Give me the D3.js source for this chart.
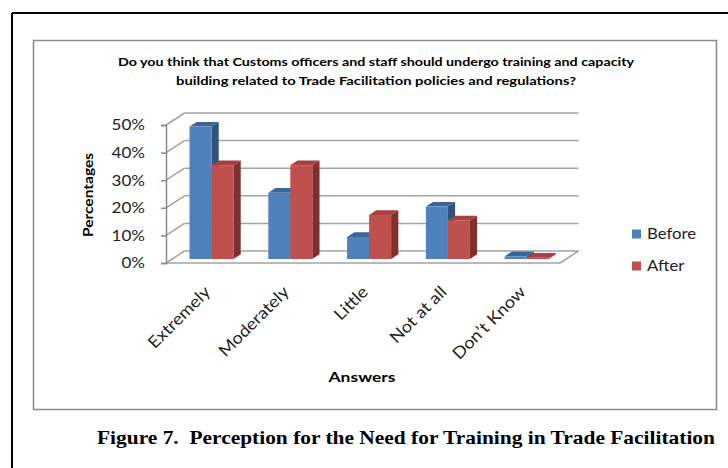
<!DOCTYPE html>
<html>
<head>
<meta charset="utf-8">
<script src="https://cdn.jsdelivr.net/npm/d3@7"></script>
<style>
  html, body { margin: 0; padding: 0; background: #fff; }
  svg { display: block; }
</style>
</head>
<body>
<svg id="chart" width="728" height="468"></svg>
<script>
// Survey answers and share of respondents (%) before / after
const categories = ["Extremely", "Moderately", "Little", "Not at all", "Don\u2019t Know"];
const seriesNames = ["Before", "After"];
const beforeValues = [48, 24, 8, 19, 1];
const afterValues = [34, 34, 16, 14, 0.5];
const yTickValues = [0, 10, 20, 30, 40, 50];
const titleLines = [
  "Do you think that Customs officers and staff should undergo training and capacity",
  "building related to Trade Facilitation policies and regulations?"
];
const yAxisTitle = "Percentages";
const xAxisTitle = "Answers";
const captionText = "Figure 7.  Perception for the Need for Training in Trade Facilitation";

const colors = {
  Before: { front: "#4F81BD", top: "#3C6699", side: "#30537D" },
  After:  { front: "#C0504D", top: "#A5413E", side: "#7F2F2D" }
};

const svg = d3.select("#chart");
const uiFont = "Lato, 'Open Sans', sans-serif";

// widen a text run a little beyond its natural width
function widen(sel, factor) {
  sel.each(function () {
    const len = this.getComputedTextLength();
    d3.select(this).attr("textLength", len * factor).attr("lengthAdjust", "spacingAndGlyphs");
  });
}

// Outer page frame (top and left rules)
svg.append("line").attr("x1", 12).attr("y1", 13).attr("x2", 728).attr("y2", 13)
  .attr("stroke", "#000").attr("stroke-width", 2);
svg.append("line").attr("x1", 12).attr("y1", 13).attr("x2", 12).attr("y2", 468)
  .attr("stroke", "#000").attr("stroke-width", 2);

// Chart area border
svg.append("rect").attr("x", 33.5).attr("y", 40.5).attr("width", 683).attr("height", 369)
  .attr("fill", "#fff").attr("stroke", "#8a8a8a").attr("stroke-width", 1.5);

// Title
const titleWidths = [516, 400];
svg.selectAll("text.title").data(titleLines).join("text")
  .attr("class", "title")
  .attr("x", 376).attr("y", (d, i) => 66 + i * 19)
  .attr("text-anchor", "middle")
  .attr("font-family", uiFont).attr("font-weight", "bold").attr("font-size", 11.5)
  .attr("textLength", (d, i) => titleWidths[i]).attr("lengthAdjust", "spacingAndGlyphs")
  .attr("fill", "#000")
  .text(d => d);

// 3D plot geometry: front plane plus a depth offset
const frontLeft = 166, frontRight = 560;
const depthDx = 18.5, depthDy = -12;
const y = d3.scaleLinear().domain([0, 50]).range([263, 125]);
const x = d3.scaleBand().domain(categories).range([frontLeft, frontRight]).padding(0);
const xSub = d3.scaleBand().domain(seriesNames).range([0, x.bandwidth()])
  .paddingInner(0).paddingOuter(0.79);
const tFront = 0.33, tBack = 0.72;

const grid = svg.append("g").attr("stroke", "#a3a3a3").attr("stroke-width", 1.5).attr("fill", "none");
// back wall gridlines
grid.selectAll("line.back").data(yTickValues).join("line")
  .attr("x1", frontLeft + depthDx).attr("x2", frontRight + depthDx)
  .attr("y1", d => y(d) + depthDy).attr("y2", d => y(d) + depthDy);
// side wall gridlines
grid.selectAll("line.side").data(yTickValues).join("line")
  .attr("x1", frontLeft).attr("x2", frontLeft + depthDx)
  .attr("y1", d => y(d)).attr("y2", d => y(d) + depthDy);
// floor front and right edges
grid.append("line").attr("x1", frontLeft).attr("x2", frontRight)
  .attr("y1", y(0)).attr("y2", y(0));
grid.append("line").attr("x1", frontRight).attr("x2", frontRight + depthDx)
  .attr("y1", y(0)).attr("y2", y(0) + depthDy);

// Value axis on the front-left edge
const yAxis = svg.append("g").attr("transform", `translate(${frontLeft},0)`)
  .call(d3.axisLeft(y).tickValues(yTickValues).tickFormat(d => d + "%").tickSize(5).tickPadding(16));
yAxis.select(".domain").attr("stroke", "#8a8a8a").attr("stroke-width", 1.5);
yAxis.selectAll(".tick line").attr("stroke", "#8a8a8a").attr("stroke-width", 1.5);
yAxis.selectAll(".tick text").attr("font-family", uiFont).attr("font-size", 15.5).attr("fill", "#222")
  .call(widen, 1.1);

// Bars
const bars = [];
categories.forEach((c, i) => {
  bars.push({ cat: c, series: "Before", value: beforeValues[i] });
  bars.push({ cat: c, series: "After", value: afterValues[i] });
});
const barW = xSub.bandwidth();
const bdx0 = tFront * depthDx, bdy0 = tFront * depthDy;
const bdx = (tBack - tFront) * depthDx, bdy = (tBack - tFront) * depthDy;

const barG = svg.append("g");
bars.forEach(b => {
  const col = colors[b.series];
  const x0 = x(b.cat) + xSub(b.series) + bdx0;
  const x1 = x0 + barW;
  const yb = y(0) + bdy0;
  const yt = y(b.value) + bdy0;
  const g = barG.append("g");
  g.append("path").attr("fill", col.side)
    .attr("d", `M${x1},${yb}L${x1 + bdx},${yb + bdy}L${x1 + bdx},${yt + bdy}L${x1},${yt}Z`);
  g.append("path").attr("fill", col.top)
    .attr("d", `M${x0},${yt}L${x0 + bdx},${yt + bdy}L${x1 + bdx},${yt + bdy}L${x1},${yt}Z`);
  g.append("rect").attr("fill", col.front)
    .attr("x", x0).attr("y", yt).attr("width", barW).attr("height", Math.max(0, yb - yt));
});

// Category labels
svg.selectAll("text.cat").data(categories).join("text")
  .attr("class", "cat")
  .attr("transform", d => `translate(${x(d) + x.bandwidth() / 2 + 6},293) rotate(-45)`)
  .attr("text-anchor", "end")
  .attr("font-family", uiFont).attr("font-size", 16.5).attr("fill", "#222")
  .text(d => d)
  .call(widen, 1.1);

// Axis titles
svg.append("text").attr("transform", "translate(93,195) rotate(-90)")
  .attr("text-anchor", "middle")
  .attr("font-family", uiFont).attr("font-weight", "bold").attr("font-size", 14)
  .attr("textLength", 84).attr("lengthAdjust", "spacingAndGlyphs")
  .text(yAxisTitle);
svg.append("text").attr("x", 362).attr("y", 382).attr("text-anchor", "middle")
  .attr("font-family", uiFont).attr("font-weight", "bold").attr("font-size", 14)
  .attr("textLength", 67).attr("lengthAdjust", "spacingAndGlyphs")
  .text(xAxisTitle);

// Legend
const legend = svg.append("g");
seriesNames.forEach((s, i) => {
  const ly = 234 + i * 32;
  legend.append("rect").attr("x", 632).attr("y", ly - 4.5).attr("width", 9).attr("height", 9)
    .attr("fill", colors[s].front);
  legend.append("text").attr("x", 647).attr("y", ly).attr("dy", "0.35em")
    .attr("font-family", uiFont).attr("font-size", 15.5).attr("fill", "#222").text(s)
    .call(widen, 1.08);
});

// Figure caption
svg.append("text").attr("x", 97).attr("y", 444)
  .attr("font-family", "'Liberation Serif', 'Times New Roman', serif")
  .attr("font-weight", "bold").attr("font-size", 19.5)
  .style("white-space", "pre")
  .attr("textLength", 618).attr("lengthAdjust", "spacingAndGlyphs")
  .text(captionText);
</script>
</body>
</html>
